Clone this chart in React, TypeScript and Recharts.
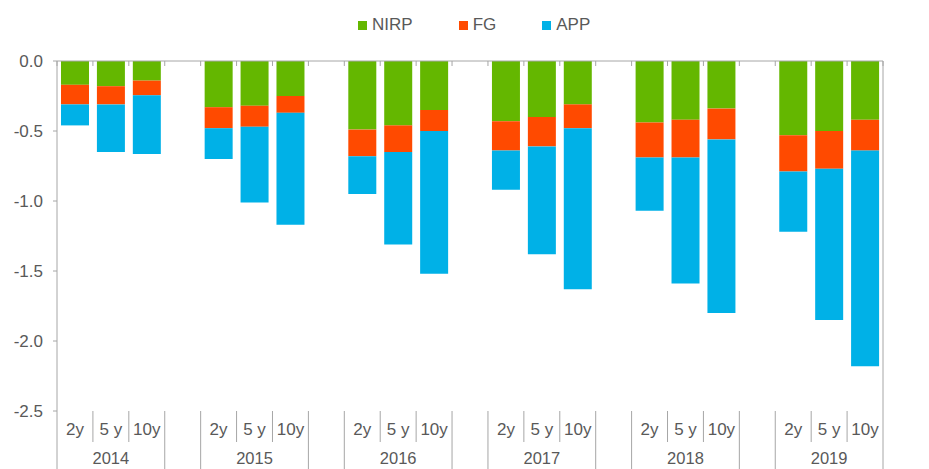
import { BarChart, Bar, XAxis, YAxis } from "recharts";

const years = ["2014", "2015", "2016", "2017", "2018", "2019"];
const maturities = ["2y", "5 y", "10y"];

// contributions, year by year in the order 2y, 5y, 10y
const nirp = [
  -0.17, -0.18, -0.14, -0.33, -0.32, -0.25, -0.49, -0.46, -0.35,
  -0.43, -0.4, -0.31, -0.44, -0.42, -0.34, -0.53, -0.5, -0.42,
];
const fg = [
  -0.14, -0.13, -0.105, -0.15, -0.15, -0.12, -0.19, -0.19, -0.15,
  -0.21, -0.21, -0.17, -0.25, -0.27, -0.22, -0.26, -0.27, -0.22,
];
const app = [
  -0.15, -0.34, -0.42, -0.22, -0.54, -0.8, -0.27, -0.66, -1.02,
  -0.28, -0.77, -1.15, -0.38, -0.9, -1.24, -0.43, -1.08, -1.54,
];
const yTicks = [0, -0.5, -1, -1.5, -2, -2.5];

const series = [
  { key: "NIRP", color: "#64b700" },
  { key: "FG", color: "#ff4a00" },
  { key: "APP", color: "#00b1e7" },
];

type Row = {
  key: string;
  year?: string;
  mat?: number;
  NIRP?: number;
  FG?: number;
  APP?: number;
};

// one row per bar, with an empty row between years
const rows: Row[] = [];
years.forEach((year, yi) => {
  if (yi > 0) rows.push({ key: `gap${yi}` });
  maturities.forEach((m, mi) => {
    const i = yi * maturities.length + mi;
    rows.push({ key: `${year} ${m}`, year, mat: mi, NIRP: nirp[i], FG: fg[i], APP: app[i] });
  });
});
const byKey = new Map(rows.map((r) => [r.key, r]));

const W = 929;
const H = 469;
const LEFT_W = 57;
const RIGHT_W = 46;
const TOP = 61;
const BOTTOM = 411;
const BAND = (W - LEFT_W - RIGHT_W) / rows.length;
const AXIS = "#a6a6a6";
const TEXT = "#595959";
const FONT = "'Liberation Sans', Arial, sans-serif";

function TopTick(props: any) {
  const { x, index } = props;
  return (
    <g>
      <line x1={x - BAND / 2} x2={x - BAND / 2} y1={TOP} y2={TOP + 5} stroke={AXIS} />
      {index === rows.length - 1 && (
        <line x1={x + BAND / 2} x2={x + BAND / 2} y1={TOP} y2={TOP + 5} stroke={AXIS} />
      )}
    </g>
  );
}

function BottomTick(props: any) {
  const { x, payload } = props;
  const row = byKey.get(payload.value);
  if (!row || row.year === undefined) return <g />;
  const last = row.mat === maturities.length - 1;
  const l = x - BAND / 2;
  const r = x + BAND / 2;
  return (
    <g fontFamily={FONT} fill={TEXT}>
      <line x1={l} x2={l} y1={BOTTOM} y2={row.mat === 0 ? H : BOTTOM + 31} stroke={AXIS} />
      {last && <line x1={r} x2={r} y1={BOTTOM} y2={H} stroke={AXIS} />}
      <text x={x} y={BOTTOM + 24} textAnchor="middle" fontSize={17}>
        {maturities[row.mat!]}
      </text>
      {row.mat === 1 && (
        <text x={x} y={BOTTOM + 53} textAnchor="middle" fontSize={16.5}>
          {row.year}
        </text>
      )}
    </g>
  );
}

const fmt = (v: number) => v.toFixed(1);

export default function App() {
  return (
    <div style={{ position: "relative", width: W, height: H, fontFamily: FONT }}>
      <style>{`body{margin:0}`}</style>
      <div
        style={{
          position: "absolute",
          left: 358,
          top: 15,
          display: "flex",
          gap: 46,
          fontSize: 17,
          lineHeight: "20px",
          color: TEXT,
        }}
      >
        {series.map((s) => (
          <div key={s.key} style={{ display: "flex", alignItems: "center" }}>
            <span style={{ width: 9, height: 9, background: s.color, marginRight: 5 }} />
            {s.key}
          </div>
        ))}
      </div>
      <BarChart
        width={W}
        height={H}
        data={rows}
        margin={{ top: 0, right: 0, bottom: 0, left: 0 }}
        barSize={28}
      >
        <XAxis
          xAxisId="top"
          dataKey="key"
          orientation="top"
          height={TOP}
          axisLine={{ stroke: AXIS }}
          tickLine={false}
          interval={0}
          tick={(p: any) => <TopTick {...p} />}
        />
        <XAxis
          xAxisId="bottom"
          dataKey="key"
          orientation="bottom"
          height={H - BOTTOM}
          axisLine={false}
          tickLine={false}
          interval={0}
          tick={(p: any) => <BottomTick {...p} />}
        />
        <YAxis
          yAxisId="left"
          domain={[-2.5, 0]}
          ticks={yTicks}
          tickFormatter={fmt}
          width={LEFT_W}
          axisLine={{ stroke: AXIS }}
          tickLine={{ stroke: AXIS }}
          tickSize={4}
          tickMargin={10}
          tick={{ fill: TEXT, fontSize: 17, fontFamily: FONT }}
        />
        <YAxis
          yAxisId="right"
          orientation="right"
          domain={[-2.5, 0]}
          ticks={yTicks}
          tickFormatter={fmt}
          width={RIGHT_W}
          axisLine={{ stroke: AXIS }}
          tickLine={{ stroke: AXIS }}
          tickSize={4}
          tickMargin={10}
          tick={{ fill: TEXT, fontSize: 17, fontFamily: FONT, textAnchor: "start" }}
        />
        {series.map((s) => (
          <Bar
            key={s.key}
            xAxisId="top"
            yAxisId="left"
            dataKey={s.key}
            stackId="contrib"
            fill={s.color}
            isAnimationActive={false}
          />
        ))}
      </BarChart>
    </div>
  );
}
